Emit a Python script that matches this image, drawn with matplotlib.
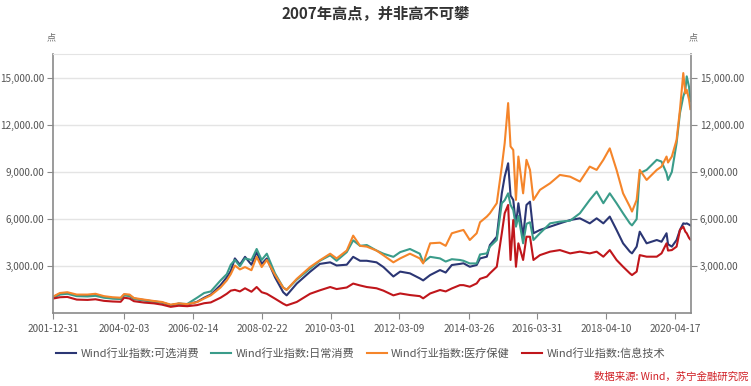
import pandas as pd
import matplotlib
matplotlib.use("Agg")
import matplotlib.pyplot as plt
from matplotlib.ticker import FuncFormatter

plt.rcParams['font.family'] = ['Noto Sans CJK SC', 'DejaVu Sans']

# 数据
dates = [
    "2002-01-04", "2002-03-15", "2002-06-03", "2002-09-12", "2003-01-06", "2003-04-01",
    "2003-07-01", "2003-10-01", "2003-12-28", "2004-02-03", "2004-04-01", "2004-05-18",
    "2004-09-05", "2004-12-20", "2005-03-15", "2005-06-17", "2005-09-12", "2005-12-12",
    "2006-03-28", "2006-06-12", "2006-08-22", "2006-12-05", "2007-02-10", "2007-03-25",
    "2007-05-08", "2007-07-01", "2007-08-25", "2007-11-02", "2007-12-28", "2008-02-20",
    "2008-04-15", "2008-07-12", "2008-10-08", "2008-11-14", "2009-03-03", "2009-07-24",
    "2009-11-06", "2010-02-25", "2010-05-05", "2010-08-22", "2010-10-30", "2011-01-12",
    "2011-03-25", "2011-07-08", "2011-09-20", "2012-01-05", "2012-03-18", "2012-07-01",
    "2012-10-15", "2012-11-20", "2013-02-03", "2013-05-20", "2013-07-20", "2013-09-24",
    "2013-12-20", "2014-01-27", "2014-04-05", "2014-06-18", "2014-07-24", "2014-10-05",
    "2014-11-07", "2015-01-20", "2015-03-15", "2015-04-15", "2015-05-22", "2015-06-17",
    "2015-07-16", "2015-08-14", "2015-09-09", "2015-10-30", "2015-12-05", "2016-01-12",
    "2016-02-18", "2016-04-28", "2016-08-15", "2016-11-28", "2017-03-18", "2017-07-01",
    "2017-10-15", "2017-12-28", "2018-03-10", "2018-05-18", "2018-07-30", "2018-10-08",
    "2018-12-20", "2019-01-12", "2019-03-03", "2019-04-05", "2019-06-18", "2019-10-05",
    "2019-11-25", "2020-01-18", "2020-02-03", "2020-03-15", "2020-05-05", "2020-06-10",
    "2020-07-16", "2020-08-07", "2020-08-22", "2020-09-16", "2020-09-30",
]

kexuan = [  # 可选消费
    1050, 1250, 1300, 1150, 1150, 1200, 1050, 980, 950, 1200, 1150, 950,
    850, 760, 700, 520, 620, 570, 740, 1000, 1200, 1800, 2300, 2700,
    3500, 3100, 3600, 3100, 3900, 3150, 3500, 2300, 1350, 1150, 1900, 2650,
    3150, 3250, 3050, 3100, 3600, 3350, 3350, 3250, 2950, 2350, 2660, 2550,
    2230, 2100, 2440, 2760, 2600, 3080, 3150, 3190, 2970, 3080, 3500, 3610,
    4350, 4880, 7640, 8700, 9550, 7500, 7220, 5600, 7010, 4880, 6900, 7110,
    5100, 5310, 5520, 5730, 5940, 6050, 5730, 6050, 5730, 6160, 5310, 4460,
    3930, 3820, 4250, 5200, 4460, 4670, 4560, 5100, 4400, 4250, 4670, 5310,
    5730, 5700, 5730, 5650, 5600,
]

richang = [  # 日常消费
    1000, 1200, 1250, 1100, 1080, 1120, 1000, 940, 920, 1150, 1100, 920,
    820, 740, 690, 530, 620, 600, 1000, 1300, 1400, 2100, 2500, 3100,
    3400, 3000, 3500, 3400, 4100, 3400, 3800, 2550, 1650, 1500, 2150, 2850,
    3350, 3700, 3350, 3900, 4650, 4300, 4350, 4000, 3800, 3600, 3900, 4100,
    3800, 3250, 3600, 3500, 3300, 3450, 3400, 3350, 3180, 3180, 3750, 3820,
    4250, 4670, 7010, 7200, 7640, 6900, 6580, 5520, 6200, 4460, 5700, 5800,
    4670, 5100, 5730, 5840, 5900, 6370, 7220, 7750, 7010, 7640, 7010, 6370,
    5730, 5600, 6000, 8920, 9130, 9770, 9660, 8920, 8490, 9000, 10830, 12740,
    13800, 14200, 15080, 14400, 13500,
]

yiliao = [  # 医疗保健
    1080, 1300, 1350, 1200, 1200, 1250, 1100, 1030, 1000, 1230, 1200, 980,
    880, 790, 730, 560, 640, 590, 720, 950, 1150, 1650, 2100, 2500,
    3050, 2800, 2950, 2750, 3600, 2950, 3400, 2450, 1650, 1500, 2200, 2950,
    3380, 3800, 3500, 4000, 4950, 4300, 4250, 4000, 3700, 3250, 3500, 3800,
    3500, 3180, 4460, 4500, 4300, 5100, 5250, 5310, 4670, 5100, 5800, 6160,
    6370, 7010, 9340, 10830, 13380, 10620, 10400, 7220, 9980, 7640, 9770, 9130,
    7220, 7860, 8280, 8810, 8700, 8390, 9340, 9130, 9770, 10500, 9130, 7640,
    6790, 6480, 7220, 9130, 8490, 9130, 9340, 9980, 9600, 9980, 11040, 12950,
    15290, 14000, 14230, 13590, 13000,
]

xinxi = [  # 信息技术
    950, 1030, 1050, 880, 860, 900, 800, 760, 740, 1000, 950, 780,
    690, 640, 560, 420, 490, 460, 530, 650, 700, 1000, 1250, 1450,
    1500, 1400, 1600, 1380, 1680, 1350, 1250, 940, 620, 510, 730, 1250,
    1470, 1680, 1550, 1650, 1900, 1780, 1680, 1600, 1450, 1150, 1270, 1170,
    1100, 960, 1270, 1490, 1400, 1590, 1800, 1800, 1700, 1910, 2200, 2340,
    2550, 2970, 5100, 6370, 6900, 3400, 5940, 2970, 4460, 3400, 4880, 4880,
    3400, 3710, 3930, 4030, 3820, 3930, 3820, 3930, 3610, 4030, 3400, 2970,
    2550, 2440, 2660, 3710, 3610, 3610, 3820, 4460, 4000, 4030, 4250, 5310,
    5520, 5200, 5100, 4800, 4700,
]

series_names = ["Wind行业指数:可选消费", "Wind行业指数:日常消费",
                "Wind行业指数:医疗保健", "Wind行业指数:信息技术"]
series_colors = ["#2b3674", "#3a9c8a", "#f5852a", "#c0161b"]
tick_dates = ["2001-12-31", "2004-02-03", "2006-02-14", "2008-02-22", "2010-03-01",
              "2012-03-09", "2014-03-26", "2016-03-31", "2018-04-10", "2020-04-17"]

x = pd.to_datetime(dates)

fig = plt.figure(figsize=(7.51, 3.86), dpi=100)
ax = fig.add_axes([0.0706, 0.188, 0.8494, 0.672])

for vals, name, col in zip([kexuan, richang, yiliao, xinxi], series_names, series_colors):
    ax.plot(x, vals, color=col, linewidth=1.5, label=name)

ax.set_xlim(pd.Timestamp("2001-12-31"), pd.Timestamp("2020-10-06"))
ax.set_ylim(0, 16500)
ax.set_yticks([3000, 6000, 9000, 12000, 15000])
ax.yaxis.set_major_formatter(FuncFormatter(lambda v, p: f"{v:,.2f}"))
ax.set_xticks(pd.to_datetime(tick_dates))
ax.set_xticklabels(tick_dates)

ax.grid(axis='y', color='#e4e4e4', linewidth=1)
ax.set_axisbelow(True)
for s in ['left', 'right', 'bottom']:
    ax.spines[s].set_color('#8a8a8a')
    ax.spines[s].set_linewidth(1.2)
ax.spines['top'].set_color('#e4e4e4')
ax.tick_params(axis='both', colors='#8a8a8a', labelcolor='#555555', labelsize=7.2, length=4)
ax.tick_params(axis='y', right=True, labelright=True, pad=2.5)

fig.text(0.5, 0.963, "2007年高点，并非高不可攀", ha='center', va='center',
         fontsize=11, fontweight='bold', color='#333333')
fig.text(0.068, 0.902, "点", ha='center', va='center', fontsize=6.5, color='#666666')
fig.text(0.923, 0.902, "点", ha='center', va='center', fontsize=6.5, color='#666666')

fig.legend(loc='center', bbox_to_anchor=(0.48, 0.085), ncol=4, frameon=False,
           fontsize=8, handlelength=1.8, handletextpad=0.4, columnspacing=1.1,
           labelcolor='#555555')

fig.text(0.996, 0.025, "数据来源: Wind，苏宁金融研究院", ha='right', va='center',
         fontsize=7.5, color='#d01f25', style='italic')

plt.savefig("out.png", dpi=100)
